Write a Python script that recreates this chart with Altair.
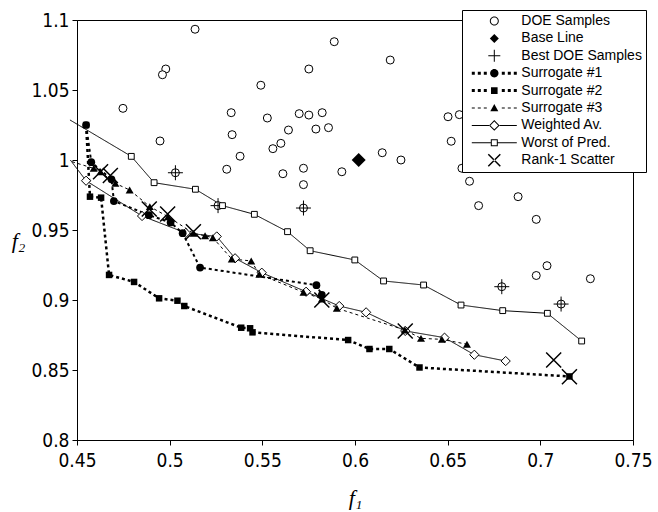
import math
import altair as alt
import pandas as pd

series_order = ["DOE Samples", "Base Line", "Best DOE Samples", "Surrogate #1",
                "Surrogate #2", "Surrogate #3", "Weighted Av.", "Worst of Pred.",
                "Rank-1 Scatter"]

doe_f1 = [0.5137, 0.4979, 0.4961, 0.5492, 0.4748, 0.5332, 0.5337, 0.4948, 0.5380, 0.5308,
          0.5888, 0.6190, 0.5751, 0.5527, 0.5699, 0.5751, 0.5823, 0.5641, 0.5789, 0.5857,
          0.5600, 0.5557, 0.5611, 0.5722, 0.5929, 0.5722, 0.6147, 0.6248, 0.6502, 0.6563,
          0.6519, 0.6577, 0.6618, 0.6880, 0.6667, 0.6978, 0.6978, 0.7036, 0.7270,
          0.5031, 0.5261, 0.5722, 0.6792, 0.7112]
doe_f2 = [1.0934, 1.0650, 1.0609, 1.0534, 1.0369, 1.0338, 1.0181, 1.0136, 1.0027, 0.9934,
          1.0845, 1.0714, 1.0650, 1.0300, 1.0331, 1.0321, 1.0338, 1.0214, 1.0221, 1.0231,
          1.0119, 1.0081, 0.9902, 0.9941, 0.9916, 0.9824, 1.0052, 1.0000, 1.0309, 1.0324,
          1.0134, 0.9941, 0.9848, 0.9738, 0.9674, 0.9576, 0.9175, 0.9245, 0.9152,
          0.9909, 0.9674, 0.9657, 0.9095, 0.8971]

base_f1 = [0.602]
base_f2 = [1.000]

best_f1 = [0.5031, 0.5261, 0.5722, 0.6792, 0.7112]
best_f2 = [0.9909, 0.9674, 0.9657, 0.9095, 0.8971]

s1_f1 = [0.4549, 0.4577, 0.4686, 0.4699, 0.4888, 0.5005, 0.5070, 0.5164, 0.5792, 0.5821]
s1_f2 = [1.0250, 0.9984, 0.9862, 0.9707, 0.9606, 0.9554, 0.9477, 0.9232, 0.9106, 0.9036]

s2_f1 = [0.4549, 0.4570, 0.4630, 0.4673, 0.4808, 0.4943, 0.5042, 0.5079, 0.5386, 0.5434,
         0.5447, 0.5963, 0.6078, 0.6185, 0.6348, 0.7157]
s2_f2 = [1.0250, 0.9738, 0.9731, 0.9179, 0.9129, 0.9012, 0.8995, 0.8957, 0.8802, 0.8798,
         0.8769, 0.8714, 0.8650, 0.8650, 0.8518, 0.8454]

s3_f1 = [0.4473, 0.4590, 0.4627, 0.4707, 0.4784, 0.4893, 0.4991, 0.5129, 0.5191, 0.5233,
         0.5335, 0.5440, 0.5484, 0.5722, 0.5821, 0.5902, 0.6269, 0.6356, 0.6469, 0.6604]
s3_f2 = [0.9988, 0.9940, 0.9916, 0.9833, 0.9786, 0.9667, 0.9595, 0.9476, 0.9459, 0.9445,
         0.9293, 0.9279, 0.9184, 0.9055, 0.9007, 0.8941, 0.8786, 0.8726, 0.8719, 0.8684]

wa_f1 = [0.4464, 0.4549, 0.4851, 0.5087, 0.5254, 0.5353, 0.5497, 0.5736, 0.5915, 0.6060,
         0.6271, 0.6483, 0.6644, 0.6813]
wa_f2 = [1.0000, 0.9852, 0.9600, 0.9479, 0.9454, 0.9298, 0.9195, 0.9059, 0.8957, 0.8912,
         0.8779, 0.8731, 0.8609, 0.8564]

wp_f1 = [0.4462, 0.4793, 0.4916, 0.5139, 0.5285, 0.5457, 0.5636, 0.5758, 0.5999, 0.6154,
         0.6370, 0.6572, 0.6797, 0.7038, 0.7223]
wp_f2 = [1.0286, 1.0026, 0.9838, 0.9791, 0.9674, 0.9612, 0.9488, 0.9352, 0.9286, 0.9136,
         0.9107, 0.8964, 0.8924, 0.8905, 0.8707]

rk_f1 = [0.4627, 0.4680, 0.4890, 0.4989, 0.5128, 0.5821, 0.6271, 0.7072, 0.7157]
rk_f2 = [0.9916, 0.9889, 0.9650, 0.9614, 0.9488, 0.9000, 0.8779, 0.8571, 0.8452]

x_ticks = [0.45, 0.5, 0.55, 0.6, 0.65, 0.7, 0.75]
y_ticks = [0.8, 0.85, 0.9, 0.95, 1.0, 1.05, 1.1]

frames = []
for name, xs, ys in [
    ("DOE Samples", doe_f1, doe_f2), ("Base Line", base_f1, base_f2),
    ("Best DOE Samples", best_f1, best_f2), ("Surrogate #1", s1_f1, s1_f2),
    ("Surrogate #2", s2_f1, s2_f2), ("Surrogate #3", s3_f1, s3_f2),
    ("Weighted Av.", wa_f1, wa_f2), ("Worst of Pred.", wp_f1, wp_f2),
    ("Rank-1 Scatter", rk_f1, rk_f2)]:
    frames.append(pd.DataFrame({"f1": xs, "f2": ys, "series": name}))
df = pd.concat(frames, ignore_index=True)

label_font = "Liberation Sans Narrow, DejaVu Sans Condensed, Liberation Sans"
x_enc = alt.X("f1:Q", scale=alt.Scale(domain=[0.45, 0.75], nice=False, zero=False),
              axis=alt.Axis(values=x_ticks, format=".2~f", grid=False, tickSize=5,
                            labelFlush=False, labelOverlap=False,
                            labelFont=label_font, labelFontSize=19, labelColor="black",
                            labelPadding=6, tickColor="black", domainColor="black",
                            title="f\u2081", titleFont="Liberation Serif",
                            titleFontStyle="italic", titleFontWeight="normal",
                            titleFontSize=22, titleColor="black", titleY=57,
                            titleBaseline="middle"))
y_enc = alt.Y("f2:Q", scale=alt.Scale(domain=[0.8, 1.1], nice=False, zero=False),
              axis=alt.Axis(values=y_ticks, format=".2~f", grid=False, tickSize=5,
                            labelFlush=False, labelOverlap=False,
                            labelFont=label_font, labelFontSize=19, labelColor="black",
                            labelPadding=3, tickColor="black", domainColor="black",
                            title="f\u2082", titleFont="Liberation Serif",
                            titleFontStyle="italic", titleFontWeight="normal",
                            titleFontSize=22, titleColor="black", titleAngle=0,
                            titleX=-59, titleY=220, titleAlign="center",
                            titleBaseline="middle"))

base = alt.Chart(df).encode(x=x_enc, y=y_enc)


def only(name, inside=False):
    expr = f"datum.series == '{name}'"
    if inside:
        expr += " && datum.f1 >= 0.45"
    return base.transform_filter(expr)


line_styles = [("Surrogate #1", [3, 3], 2), ("Surrogate #2", [3, 3], 2.5),
               ("Surrogate #3", [3, 3], 1), ("Weighted Av.", [1, 0], 1),
               ("Worst of Pred.", [1, 0], 1)]
layers = []
for name, dash, w in line_styles:
    layers.append(only(name).mark_line(color="black", strokeDash=dash, strokeWidth=w)
                  .encode(order="f1:Q"))

plus_path = "M-1,0L1,0M0,-1L0,1"
x_path = "M-1,-1L1,1M1,-1L-1,1"

layers += [
    only("DOE Samples").mark_point(shape="circle", filled=True, fill="white", stroke="black",
                                   strokeWidth=1, size=64, opacity=1),
    only("Best DOE Samples").mark_point(shape=plus_path, stroke="black", strokeWidth=1,
                                        size=225, opacity=1, filled=False),
    only("Base Line").mark_point(shape="diamond", filled=True, color="black", size=196,
                                 opacity=1),
    only("Weighted Av.", True).mark_point(shape="diamond", filled=True, fill="white",
                                          stroke="black", strokeWidth=1, size=85, opacity=1),
    only("Worst of Pred.", True).mark_point(shape="square", filled=True, fill="white",
                                            stroke="black", strokeWidth=1, size=34, opacity=1),
    only("Surrogate #3", True).mark_point(shape="triangle-up", filled=True, color="black",
                                          size=64, opacity=1),
    only("Surrogate #1", True).mark_point(shape="circle", filled=True, color="black",
                                          size=60, opacity=1),
    only("Surrogate #2", True).mark_point(shape="square", filled=True, color="black",
                                          size=42, opacity=1),
    only("Rank-1 Scatter").mark_point(shape=x_path, stroke="black", strokeWidth=1.5,
                                      size=225, opacity=1, filled=False),
]

# ---- legend glyphs, drawn as filled outlines (pixel units, scaled to symbol units) ----
SYM_SIZE = 144
UNIT = math.sqrt(SYM_SIZE) / 2.0


def poly(pts):
    return "M" + "L".join(f"{x / UNIT:.3f},{y / UNIT:.3f}" for x, y in pts) + "Z"


def circle_pts(r, rev=False, n=28):
    pts = [(r * math.cos(2 * math.pi * k / n), r * math.sin(2 * math.pi * k / n))
           for k in range(n)]
    return pts[::-1] if rev else pts


def rect(x0, y0, x1, y1, rev=False):
    pts = [(x0, y0), (x1, y0), (x1, y1), (x0, y1)]
    return poly(pts[::-1] if rev else pts)


def ring(r):
    return poly(circle_pts(r + 0.5)) + poly(circle_pts(r - 0.5, rev=True))


def diamond(h):
    return poly([(0, -h), (h, 0), (0, h), (-h, 0)])


def diamond_ring(h):
    return poly([(0, -h - 0.7), (h + 0.7, 0), (0, h + 0.7), (-h - 0.7, 0)]) + \
        poly([(-h + 0.7, 0), (0, h - 0.7), (h - 0.7, 0), (0, -h + 0.7)])


def square_ring(h):
    return rect(-h - 0.5, -h - 0.5, h + 0.5, h + 0.5) + rect(-h + 0.5, -h + 0.5, h - 0.5, h - 0.5, rev=True)


def bar(x0, x1, t=0.5):
    return rect(x0, -t, x1, t)


def slash(a, w=0.75, flip=1):
    d = w / math.sqrt(2)
    return poly([(-a + d, flip * (-a - d)), (a + d, flip * (a - d)),
                 (a - d, flip * (a + d)), (-a - d, flip * (-a + d))])


dot_xs = [-21, -15, -9, 9, 15, 21]
dots = "".join(rect(x - 1.5, -1.5, x + 1.5, 1.5) for x in dot_xs)
dash_xs = [-22.5, -16.5, -10.5, 7.5, 13.5, 19.5]
dashes = "".join(rect(x, -0.5, x + 3, 0.5) for x in dash_xs)

legend_paths = [
    ring(4),
    diamond(4.5),
    bar(-6, 6) + rect(-0.5, -6, 0.5, 6),
    dots + poly(circle_pts(4.2)),
    dots + rect(-3.3, -3.3, 3.3, 3.3),
    dashes + poly([(-4, 3.3), (0, -4), (4, 3.3)]),
    bar(-22.5, -5.3) + bar(5.3, 22.5) + diamond_ring(4.6),
    bar(-22.5, -3.5) + bar(3.5, 22.5) + square_ring(3),
    slash(6) + slash(6, flip=-1),
]

leg = alt.Legend(title=None, orient="none", legendX=385, legendY=-10, direction="vertical",
                 columns=1, fillColor="white", strokeColor="black", padding=4,
                 symbolSize=SYM_SIZE, symbolOffset=21.3, labelOffset=20,
                 symbolStrokeWidth=0, symbolStrokeColor="transparent",
                 symbolFillColor="black", symbolOpacity=1,
                 labelFont="Liberation Sans", labelFontSize=14, labelColor="black",
                 rowPadding=3.4)

legend_layer = base.mark_point(opacity=0, filled=True, color="black").encode(
    shape=alt.Shape("series:N", scale=alt.Scale(domain=series_order, range=legend_paths),
                    legend=leg),
)
layers.append(legend_layer)

chart = alt.layer(*layers).properties(
    width=556, height=420,
    autosize=alt.AutoSizeParams(type="none"),
    padding={"left": 77, "top": 20, "right": 25, "bottom": 72},
    background="white",
).configure_view(stroke="black", strokeWidth=1)

chart.save("out.html", embed_options={"renderer": "svg", "actions": False})
